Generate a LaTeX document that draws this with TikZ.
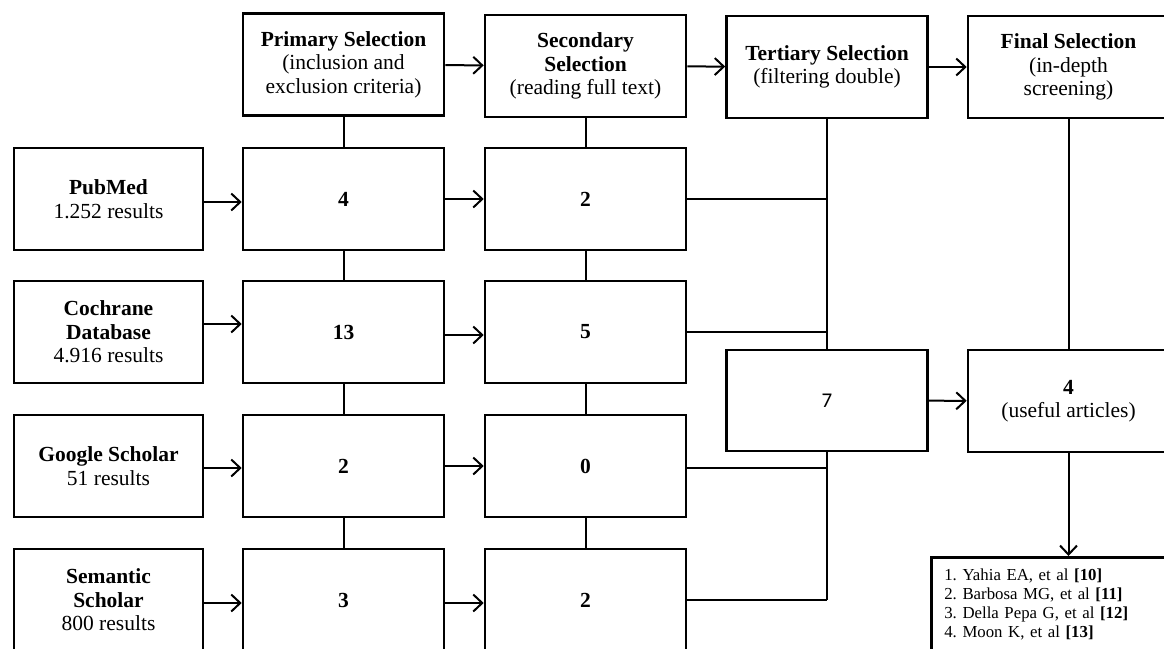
\documentclass[tikz,border=0pt]{standalone}
\usepackage{fontspec}
\setmainfont{Liberation Serif}
\newfontfamily\calibri{Carlito}
\usetikzlibrary{arrows.meta}

\tikzset{
  box/.style={draw, line width=2.6pt, minimum width=201pt, minimum height=102pt, align=center,
    inner sep=2pt, font=\fontsize{21.5}{23.5}\selectfont},
  srcbox/.style={box, minimum width=189pt},
  link/.style={line width=2pt},
  arrow/.style={line width=2pt, -{Straight Barb[length=9pt, width=17pt, line width=2pt]}}
}

\begin{document}
\begin{tikzpicture}[x=1pt, y=-1pt]
	\useasboundingbox (0,0) rectangle (1164,648);
	\fill[white] (0,0) rectangle (1164,648);
	\clip (0,0) rectangle (1164,648);

	% selection stages
	\node[box] (prim) at (343.5,64.5) {\textbf{Primary Selection}\\(inclusion and\\exclusion criteria)};
	\node[box] (sec) at (585.5,66) {\textbf{Secondary}\\\textbf{Selection}\\(reading full text)};
	\node[box] (tert) at (827,67) {\textbf{Tertiary Selection}\\(filtering double)};
	\node[box] (fin) at (1068.5,67) {\textbf{Final Selection}\\(in-depth\\screening)};

	% databases
	\node[srcbox] (pubmed) at (108.5,199) {\textbf{PubMed}\\1.252 results};
	\node[srcbox] (cochrane) at (108.5,332) {\textbf{Cochrane}\\\textbf{Database}\\4.916 results};
	\node[srcbox] (google) at (108.5,466) {\textbf{Google Scholar}\\51 results};
	\node[srcbox] (semantic) at (108.5,600) {\textbf{Semantic}\\\textbf{Scholar}\\800 results};

	\node[box] (p1) at (343.5,199) {\textbf{4}};
	\node[box] (p2) at (343.5,332) {\textbf{13}};
	\node[box] (p3) at (343.5,466) {\textbf{2}};
	\node[box] (p4) at (343.5,600) {\textbf{3}};

	\node[box] (s1) at (585.5,199) {\textbf{2}};
	\node[box] (s2) at (585.5,332) {\textbf{5}};
	\node[box] (s3) at (585.5,466) {\textbf{0}};
	\node[box] (s4) at (585.5,600) {\textbf{2}};

	\node[box, minimum height=101pt, font=\calibri\fontsize{21}{24}\selectfont] (seven) at (827,400.5) {7};
	\node[box] (useful) at (1068.5,401) {\textbf{4}\\(useful articles)};
	\node[draw, line width=2.6pt, anchor=north west, text width=234pt, align=left,
		inner xsep=13pt, inner ysep=12pt, font=\fontsize{16.8}{18.7}\selectfont\frenchspacing]
		(refs) at (930,556) {1. Yahia EA, et al \textbf{[10]}\\2. Barbosa MG, et al \textbf{[11]}\\3. Della Pepa G, et al \textbf{[12]}\\4. Moon K, et al \textbf{[13]}\\[16pt]};

	% top row
	\draw[arrow] (prim) -- (sec);
	\draw[arrow] (sec) -- (tert);
	\draw[arrow] (tert) -- (fin);

	% columns
	\draw[link] (prim) -- (p1);
	\draw[link] (p1) -- (p2);
	\draw[link] (p2) -- (p3);
	\draw[link] (p3) -- (p4);
	\draw[link] (sec) -- (s1);
	\draw[link] (s1) -- (s2);
	\draw[link] (s2) -- (s3);
	\draw[link] (s3) -- (s4);

	% rows
	\draw[arrow] ([yshift=-3pt]pubmed.east) -- ([yshift=-3pt]pubmed.east -| p1.west);
	\draw[arrow] ([yshift=8pt]cochrane.east) -- ([yshift=8pt]cochrane.east -| p2.west);
	\draw[arrow] ([yshift=-2pt]google.east) -- ([yshift=-2pt]google.east -| p3.west);
	\draw[arrow] ([yshift=-3pt]semantic.east) -- ([yshift=-3pt]semantic.east -| p4.west);
	\draw[arrow] (p1) -- (s1);
	\draw[arrow] ([yshift=-3pt]p2.east) -- ([yshift=-3pt]s2.west);
	\draw[arrow] (p3) -- (s3);
	\draw[arrow] ([yshift=-3pt]p4.east) -- ([yshift=-3pt]s4.west);

	% merging
	\draw[link] (tert) -- (seven);
	\draw[link] (seven) -- (seven |- s4.east);
	\draw[link] (s1) -- (s1 -| seven);
	\draw[link] (s2) -- (s2 -| seven);
	\draw[link] ([yshift=-2pt]s3.east) -- ([yshift=-2pt]s3.east -| seven);
	\draw[link] (s4) -- (s4 -| seven);

	\draw[link] (fin) -- (useful);
	\draw[arrow] (seven) -- (useful);
	\draw[arrow] (useful.south) -- (useful.south |- refs.north);
\end{tikzpicture}
\end{document}
